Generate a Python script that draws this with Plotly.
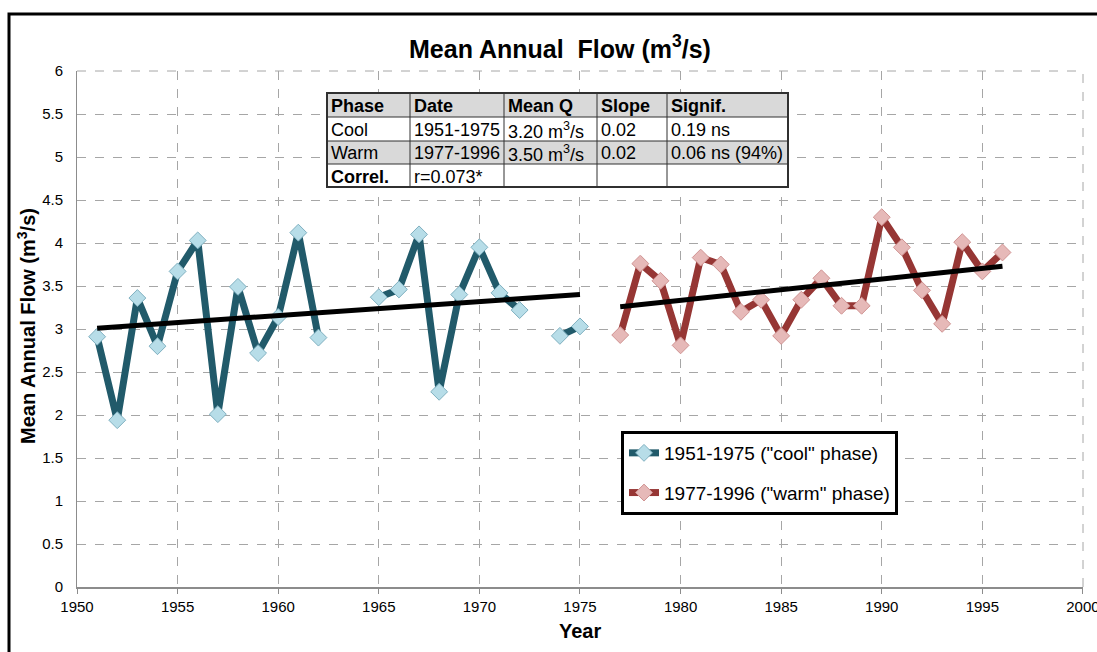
import plotly.graph_objects as go

# ---- data ----
cool_years = list(range(1951, 1976))
cool_flow = [2.91, 1.94, 3.36, 2.80, 3.67, 4.03, 2.01, 3.49, 2.72, 3.14,
             4.12, 2.90, None, None, 3.37, 3.46, 4.10, 2.27, 3.40, 3.95,
             3.42, 3.22, None, 2.92, 3.03]
warm_years = list(range(1977, 1997))
warm_flow = [2.93, 3.76, 3.56, 2.81, 3.83, 3.75, 3.20, 3.34, 2.92, 3.34,
             3.59, 3.27, 3.27, 4.30, 3.95, 3.45, 3.06, 4.01, 3.67, 3.89]
cool_trend_x = [1951, 1975]
cool_trend_y = [3.01, 3.40]
warm_trend_x = [1977, 1996]
warm_trend_y = [3.26, 3.73]
year_ticks = [1950, 1955, 1960, 1965, 1970, 1975, 1980, 1985, 1990, 1995, 2000]

table_header = ["Phase", "Date", "Mean Q", "Slope", "Signif."]
table_rows = [
    ["Cool", "1951-1975", "3.20 m<sup>3</sup>/s", "0.02", "0.19 ns"],
    ["Warm", "1977-1996", "3.50 m<sup>3</sup>/s", "0.02", "0.06 ns (94%)"],
    ["<b>Correl.</b>", "r=0.073*", "", "", ""],
]

FONT = "Liberation Sans, Arial, sans-serif"
W, H = 1097, 652
L, R, T, B = 77, 1083, 71, 587


def px(xp):
    return (xp - L) / (R - L)


def py(yp):
    return (B - yp) / (B - T)


fig = go.Figure()
fig.add_trace(go.Scatter(
    x=cool_years, y=cool_flow, mode="lines+markers", connectgaps=False,
    name='1951-1975 ("cool" phase)', legendgroup="cool",
    line=dict(color="#215a6a", width=7),
    marker=dict(symbol="diamond", size=13, color="#b7dde8",
                line=dict(color="#7fb0c0", width=1))))
fig.add_trace(go.Scatter(
    x=warm_years, y=warm_flow, mode="lines+markers",
    name='1977-1996 ("warm" phase)', legendgroup="warm",
    line=dict(color="#963634", width=7),
    marker=dict(symbol="diamond", size=13, color="#e6b9b8",
                line=dict(color="#d09392", width=1))))
fig.add_trace(go.Scatter(x=cool_trend_x, y=cool_trend_y, mode="lines",
                         line=dict(color="black", width=5), showlegend=False))
fig.add_trace(go.Scatter(x=warm_trend_x, y=warm_trend_y, mode="lines",
                         line=dict(color="black", width=5), showlegend=False))

shapes = []
annotations = []

# outer frame
shapes.append(dict(type="rect", xref="paper", yref="paper",
                   x0=px(9), x1=px(1200), y0=py(700), y1=py(14),
                   line=dict(color="black", width=3), fillcolor="rgba(0,0,0,0)",
                   layer="below"))
# dashed right & top borders of plot area
shapes.append(dict(type="line", xref="paper", yref="paper", x0=1, x1=1, y0=0, y1=1,
                   line=dict(color="#a6a6a6", width=1, dash="dash"), layer="below"))
shapes.append(dict(type="line", xref="paper", yref="paper", x0=0, x1=1, y0=1, y1=1,
                   line=dict(color="#a6a6a6", width=1, dash="dash"), layer="below"))

# table
col_edges = [327, 410, 504, 597, 667, 788]
row_edges = [93, 117, 141, 164, 187]
fills = ["#d9d9d9", "white", "#d9d9d9", "white"]
for r in range(4):
    shapes.append(dict(type="rect", xref="paper", yref="paper",
                       x0=px(col_edges[0]), x1=px(col_edges[-1]),
                       y0=py(row_edges[r + 1]), y1=py(row_edges[r]),
                       line=dict(width=0), fillcolor=fills[r], layer="above"))
for ye in row_edges:
    shapes.append(dict(type="line", xref="paper", yref="paper",
                       x0=px(col_edges[0]), x1=px(col_edges[-1]),
                       y0=py(ye), y1=py(ye), line=dict(color="#303030", width=1)))
for xe in col_edges:
    shapes.append(dict(type="line", xref="paper", yref="paper",
                       x0=px(xe), x1=px(xe),
                       y0=py(row_edges[-1]), y1=py(row_edges[0]),
                       line=dict(color="#303030", width=1)))
shapes.append(dict(type="rect", xref="paper", yref="paper",
                   x0=px(col_edges[0]), x1=px(col_edges[-1]),
                   y0=py(row_edges[-1]), y1=py(row_edges[0]),
                   line=dict(color="#303030", width=2), fillcolor="rgba(0,0,0,0)"))

all_rows = [["<b>%s</b>" % h for h in table_header]] + table_rows
for r, row in enumerate(all_rows):
    yc = (row_edges[r] + row_edges[r + 1]) / 2 + 1
    for c, txt in enumerate(row):
        if not txt:
            continue
        annotations.append(dict(xref="paper", yref="paper",
                                x=px(col_edges[c] + 2), y=py(yc),
                                xanchor="left", yanchor="middle", showarrow=False,
                                text=txt, font=dict(family=FONT, size=18, color="black")))

# title
annotations.append(dict(xref="paper", yref="paper", x=px(560), y=py(47),
                        xanchor="center", yanchor="middle", showarrow=False,
                        text="<b>Mean Annual  Flow (m<sup>3</sup>/s)</b>",
                        font=dict(family=FONT, size=25, color="black")))
# y axis title
annotations.append(dict(xref="paper", yref="paper", x=px(26), y=py(326),
                        xanchor="center", yanchor="middle", showarrow=False,
                        textangle=-90,
                        text="<b>Mean Annual Flow (m<sup>3</sup>/s)</b>",
                        font=dict(family=FONT, size=20, color="black")))
# x axis title
annotations.append(dict(xref="paper", yref="paper", x=px(580), y=py(631),
                        xanchor="center", yanchor="middle", showarrow=False,
                        text="<b>Year</b>",
                        font=dict(family=FONT, size=20, color="black")))

fig.update_layout(
    width=W, height=H,
    margin=dict(l=L, r=W - R, t=T, b=H - B, pad=0, autoexpand=False),
    paper_bgcolor="white", plot_bgcolor="white",
    font=dict(family=FONT, size=15, color="black"),
    shapes=shapes, annotations=annotations,
    showlegend=True,
    legend=dict(x=px(621), y=py(431), xanchor="left", yanchor="top",
                bordercolor="black", borderwidth=3, bgcolor="white",
                font=dict(family=FONT, size=19, color="black"),
                itemwidth=30, tracegroupgap=12),
)
fig.update_xaxes(range=[1950, 2000.002], tickmode="array", tickvals=year_ticks,
                 ticklabeloverflow="allow", automargin=False,
                 showgrid=True, gridcolor="#a6a6a6", griddash="dash", gridwidth=1,
                 showline=True, linecolor="#8c8c8c", linewidth=2,
                 ticks="outside", ticklen=5, tickcolor="#8c8c8c",
                 zeroline=False, mirror=False,
                 tickfont=dict(family=FONT, size=15, color="black"))
fig.update_yaxes(range=[0, 6], tickmode="linear", tick0=0, dtick=0.5,
                 ticklabelstandoff=10, automargin=False,
                 showgrid=True, gridcolor="#a6a6a6", griddash="dash", gridwidth=1,
                 showline=True, linecolor="#8c8c8c", linewidth=1,
                 ticks="", zeroline=False,
                 tickfont=dict(family=FONT, size=15, color="black"))

fig.write_html("out.html")
